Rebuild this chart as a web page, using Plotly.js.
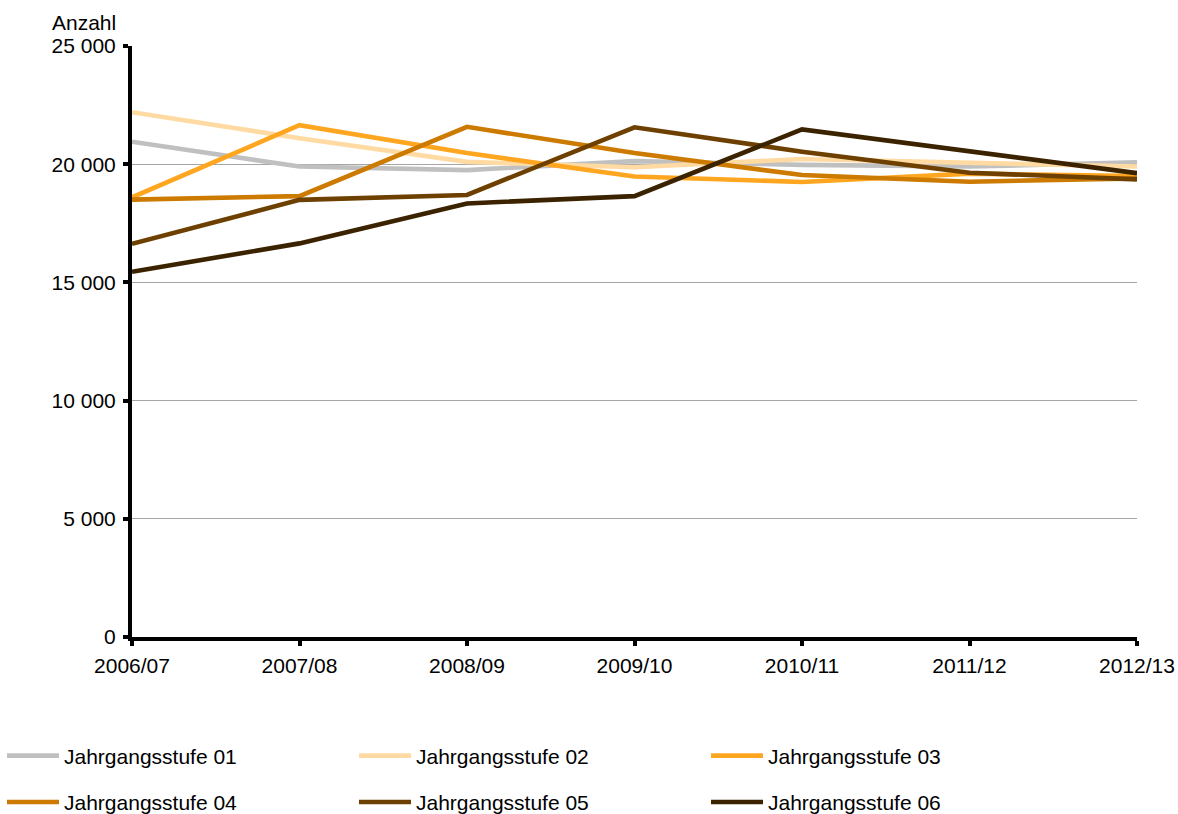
<!DOCTYPE html>
<html>
<head>
<meta charset="utf-8">
<script src="https://cdn.plot.ly/plotly-3.0.1.min.js"></script>
<style>
  html, body { margin: 0; padding: 0; background: #ffffff; }
  #chart { width: 1178px; height: 814px; }
</style>
</head>
<body>
<div id="chart"></div>
<script>
// School years on the x axis
const schoolYears = ['2006/07', '2007/08', '2008/09', '2009/10', '2010/11', '2011/12', '2012/13'];

// Pupils per grade level (Anzahl)
const stufe01 = [20950, 19900, 19750, 20130, 19970, 19900, 20080];
const stufe02 = [22200, 21100, 20100, 19870, 20220, 20060, 19900];
const stufe03 = [18600, 21650, 20470, 19480, 19250, 19600, 19500];
const stufe04 = [18500, 18650, 21580, 20470, 19540, 19260, 19400];
const stufe05 = [16630, 18490, 18700, 21560, 20530, 19640, 19360];
const stufe06 = [15450, 16650, 18340, 18650, 21470, 20530, 19620];

const seriesNames = ['Jahrgangsstufe 01', 'Jahrgangsstufe 02', 'Jahrgangsstufe 03',
                     'Jahrgangsstufe 04', 'Jahrgangsstufe 05', 'Jahrgangsstufe 06'];
const seriesColors = ['#C0C0C0', '#FFDAA2', '#FFA620', '#CC7A00', '#6E4000', '#3C2300'];

const yTicks = [0, 5000, 10000, 15000, 20000, 25000];

const allSeries = [stufe01, stufe02, stufe03, stufe04, stufe05, stufe06];

// Legend laid out in three columns of two rows each
const legendIds = ['legend', 'legend2', 'legend3'];

const traces = allSeries.map((vals, i) => ({
  type: 'scatter',
  mode: 'lines',
  x: schoolYears,
  y: vals,
  name: seriesNames[i],
  line: { color: seriesColors[i], width: 4.6 },
  legend: legendIds[i % 3],
  legendgroup: 'g' + i,
  hoverinfo: 'x+y+name'
}));

const font = { family: 'Liberation Sans, Arial, sans-serif', size: 21, color: '#000000' };

function legendColumn(leftPx) {
  return {
    orientation: 'v',
    xref: 'container',
    yref: 'container',
    x: leftPx / 1178,
    xanchor: 'left',
    y: 1 - 779 / 814,
    yanchor: 'middle',
    itemwidth: 52,
    tracegroupgap: 16,
    bgcolor: 'rgba(0,0,0,0)',
    borderwidth: 0,
    font: font,
    traceorder: 'grouped'
  };
}

const layout = {
  width: 1178,
  height: 814,
  margin: { l: 132, r: 41, t: 46, b: 177, autoexpand: false },
  paper_bgcolor: '#ffffff',
  plot_bgcolor: '#ffffff',
  font: font,
  separators: ', ',
  showlegend: true,
  xaxis: {
    type: 'category',
    range: [0, schoolYears.length - 1],
    showgrid: false,
    zeroline: false,
    showline: true,
    linecolor: '#000000',
    linewidth: 4,
    ticks: 'outside',
    ticklen: 5,
    tickwidth: 4,
    tickcolor: '#000000',
    tickfont: font,
    tickangle: 0,
    ticklabelstandoff: 2,
    fixedrange: true
  },
  yaxis: {
    range: [0, 25000],
    tickvals: yTicks,
    tickformat: ',d',
    showgrid: true,
    gridcolor: '#A6A6A6',
    gridwidth: 1,
    zeroline: false,
    showline: true,
    linecolor: '#000000',
    linewidth: 4,
    ticks: 'outside',
    ticklen: 5,
    tickwidth: 4,
    tickcolor: '#000000',
    tickfont: font,
    ticklabelstandoff: 3,
    fixedrange: true
  },
  legend: legendColumn(2),
  legend2: legendColumn(354),
  legend3: legendColumn(706),
  annotations: [{
    text: 'Anzahl',
    xref: 'paper', yref: 'paper',
    x: 0, y: 1,
    xanchor: 'right', yanchor: 'middle',
    xshift: -14, yshift: 24,
    showarrow: false,
    font: font
  }]
};

Plotly.newPlot('chart', traces, layout, { displayModeBar: false });
</script>
</body>
</html>
